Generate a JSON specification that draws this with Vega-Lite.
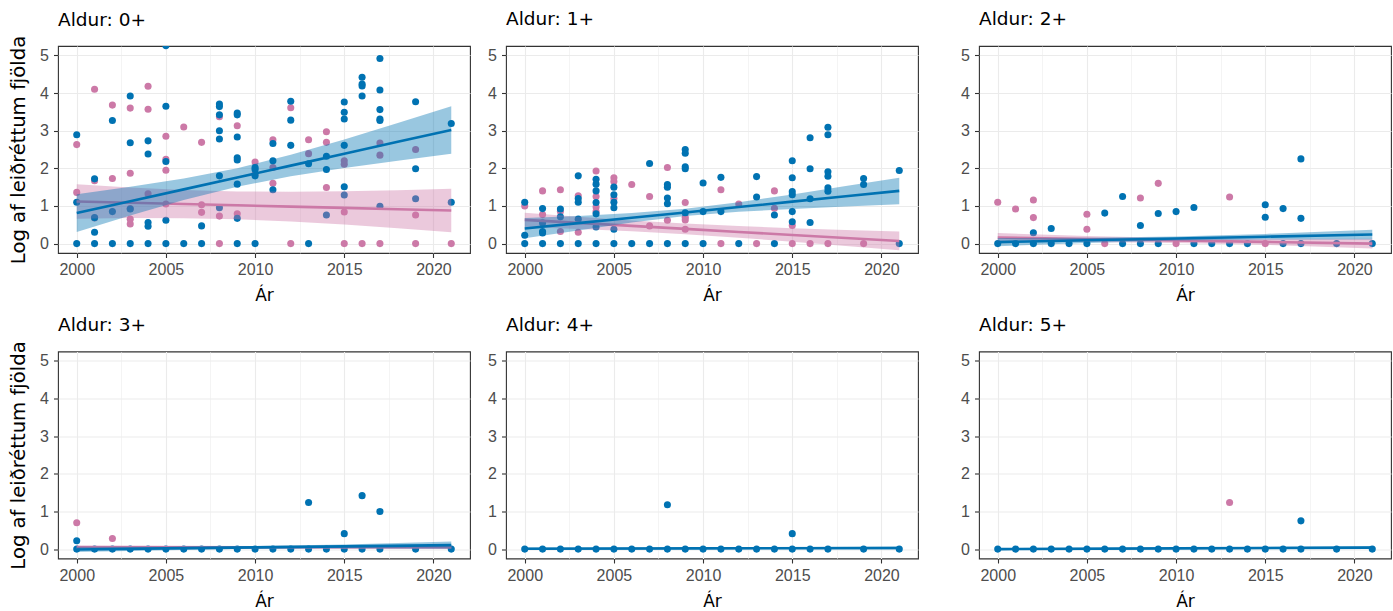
{
"$schema": "https://vega.github.io/schema/vega-lite/v6.json",
"padding": {"left": 8, "top": 9, "right": 4, "bottom": 4},
"columns": 3,
"spacing": {"row": 9.5, "column": 16},
"datasets": {
"punktar": [
{"aldur":"0+","hopur":"A","ar":2000,"y":2.63},{"aldur":"0+","hopur":"A","ar":2000,"y":1.36},{"aldur":"0+","hopur":"A","ar":2001,"y":4.10},{"aldur":"0+","hopur":"A","ar":2001,"y":1.67},{"aldur":"0+","hopur":"A","ar":2001,"y":0.68},{"aldur":"0+","hopur":"A","ar":2002,"y":3.68},{"aldur":"0+","hopur":"A","ar":2002,"y":1.73},{"aldur":"0+","hopur":"A","ar":2003,"y":3.60},{"aldur":"0+","hopur":"A","ar":2003,"y":1.87},{"aldur":"0+","hopur":"A","ar":2003,"y":0.93},{"aldur":"0+","hopur":"A","ar":2003,"y":0.65},{"aldur":"0+","hopur":"A","ar":2003,"y":0.52},{"aldur":"0+","hopur":"A","ar":2004,"y":4.18},{"aldur":"0+","hopur":"A","ar":2004,"y":3.57},{"aldur":"0+","hopur":"A","ar":2004,"y":1.32},{"aldur":"0+","hopur":"A","ar":2005,"y":2.85},{"aldur":"0+","hopur":"A","ar":2005,"y":2.24},{"aldur":"0+","hopur":"A","ar":2005,"y":1.95},{"aldur":"0+","hopur":"A","ar":2005,"y":1.05},{"aldur":"0+","hopur":"A","ar":2006,"y":3.10},{"aldur":"0+","hopur":"A","ar":2007,"y":2.69},{"aldur":"0+","hopur":"A","ar":2007,"y":1.03},{"aldur":"0+","hopur":"A","ar":2007,"y":0.83},{"aldur":"0+","hopur":"A","ar":2008,"y":3.37},{"aldur":"0+","hopur":"A","ar":2008,"y":0.73},{"aldur":"0+","hopur":"A","ar":2008,"y":0},{"aldur":"0+","hopur":"A","ar":2009,"y":3.13},{"aldur":"0+","hopur":"A","ar":2009,"y":0.79},{"aldur":"0+","hopur":"A","ar":2010,"y":2.17},{"aldur":"0+","hopur":"A","ar":2010,"y":1.85},{"aldur":"0+","hopur":"A","ar":2011,"y":2.76},{"aldur":"0+","hopur":"A","ar":2011,"y":2.02},{"aldur":"0+","hopur":"A","ar":2011,"y":1.60},{"aldur":"0+","hopur":"A","ar":2012,"y":3.61},{"aldur":"0+","hopur":"A","ar":2012,"y":0},{"aldur":"0+","hopur":"A","ar":2013,"y":2.76},{"aldur":"0+","hopur":"A","ar":2013,"y":2.39},{"aldur":"0+","hopur":"A","ar":2014,"y":2.97},{"aldur":"0+","hopur":"A","ar":2014,"y":2.69},{"aldur":"0+","hopur":"A","ar":2014,"y":1.49},{"aldur":"0+","hopur":"A","ar":2015,"y":2.20},{"aldur":"0+","hopur":"A","ar":2015,"y":2.11},{"aldur":"0+","hopur":"A","ar":2015,"y":0.84},{"aldur":"0+","hopur":"A","ar":2015,"y":0},{"aldur":"0+","hopur":"A","ar":2016,"y":0},{"aldur":"0+","hopur":"A","ar":2017,"y":2.67},{"aldur":"0+","hopur":"A","ar":2017,"y":2.35},{"aldur":"0+","hopur":"A","ar":2017,"y":0},{"aldur":"0+","hopur":"A","ar":2019,"y":2.50},{"aldur":"0+","hopur":"A","ar":2019,"y":0.76},{"aldur":"0+","hopur":"A","ar":2019,"y":0},{"aldur":"0+","hopur":"A","ar":2021,"y":0},
{"aldur":"0+","hopur":"B","ar":2000,"y":2.89},{"aldur":"0+","hopur":"B","ar":2000,"y":1.10},{"aldur":"0+","hopur":"B","ar":2000,"y":0},{"aldur":"0+","hopur":"B","ar":2001,"y":1.72},{"aldur":"0+","hopur":"B","ar":2001,"y":0.69},{"aldur":"0+","hopur":"B","ar":2001,"y":0.30},{"aldur":"0+","hopur":"B","ar":2001,"y":0},{"aldur":"0+","hopur":"B","ar":2002,"y":3.27},{"aldur":"0+","hopur":"B","ar":2002,"y":0.85},{"aldur":"0+","hopur":"B","ar":2002,"y":0},{"aldur":"0+","hopur":"B","ar":2003,"y":3.92},{"aldur":"0+","hopur":"B","ar":2003,"y":2.68},{"aldur":"0+","hopur":"B","ar":2003,"y":0.92},{"aldur":"0+","hopur":"B","ar":2003,"y":0},{"aldur":"0+","hopur":"B","ar":2004,"y":2.73},{"aldur":"0+","hopur":"B","ar":2004,"y":2.38},{"aldur":"0+","hopur":"B","ar":2004,"y":0.56},{"aldur":"0+","hopur":"B","ar":2004,"y":0.46},{"aldur":"0+","hopur":"B","ar":2004,"y":0},{"aldur":"0+","hopur":"B","ar":2005,"y":5.26},{"aldur":"0+","hopur":"B","ar":2005,"y":3.65},{"aldur":"0+","hopur":"B","ar":2005,"y":2.18},{"aldur":"0+","hopur":"B","ar":2005,"y":0.62},{"aldur":"0+","hopur":"B","ar":2005,"y":0},{"aldur":"0+","hopur":"B","ar":2006,"y":0},{"aldur":"0+","hopur":"B","ar":2007,"y":0.47},{"aldur":"0+","hopur":"B","ar":2007,"y":0},{"aldur":"0+","hopur":"B","ar":2008,"y":3.71},{"aldur":"0+","hopur":"B","ar":2008,"y":3.64},{"aldur":"0+","hopur":"B","ar":2008,"y":3.42},{"aldur":"0+","hopur":"B","ar":2008,"y":3.00},{"aldur":"0+","hopur":"B","ar":2008,"y":2.78},{"aldur":"0+","hopur":"B","ar":2008,"y":1.80},{"aldur":"0+","hopur":"B","ar":2008,"y":0.95},{"aldur":"0+","hopur":"B","ar":2009,"y":3.47},{"aldur":"0+","hopur":"B","ar":2009,"y":3.42},{"aldur":"0+","hopur":"B","ar":2009,"y":2.83},{"aldur":"0+","hopur":"B","ar":2009,"y":2.28},{"aldur":"0+","hopur":"B","ar":2009,"y":2.22},{"aldur":"0+","hopur":"B","ar":2009,"y":1.58},{"aldur":"0+","hopur":"B","ar":2009,"y":0.67},{"aldur":"0+","hopur":"B","ar":2009,"y":0},{"aldur":"0+","hopur":"B","ar":2010,"y":2.02},{"aldur":"0+","hopur":"B","ar":2010,"y":1.97},{"aldur":"0+","hopur":"B","ar":2010,"y":1.80},{"aldur":"0+","hopur":"B","ar":2010,"y":0},{"aldur":"0+","hopur":"B","ar":2011,"y":2.66},{"aldur":"0+","hopur":"B","ar":2011,"y":2.20},{"aldur":"0+","hopur":"B","ar":2011,"y":1.43},{"aldur":"0+","hopur":"B","ar":2012,"y":3.78},{"aldur":"0+","hopur":"B","ar":2012,"y":3.28},{"aldur":"0+","hopur":"B","ar":2012,"y":2.61},{"aldur":"0+","hopur":"B","ar":2013,"y":2.12},{"aldur":"0+","hopur":"B","ar":2013,"y":0},{"aldur":"0+","hopur":"B","ar":2014,"y":2.32},{"aldur":"0+","hopur":"B","ar":2014,"y":1.97},{"aldur":"0+","hopur":"B","ar":2014,"y":0.76},{"aldur":"0+","hopur":"B","ar":2015,"y":3.76},{"aldur":"0+","hopur":"B","ar":2015,"y":3.49},{"aldur":"0+","hopur":"B","ar":2015,"y":3.31},{"aldur":"0+","hopur":"B","ar":2015,"y":2.61},{"aldur":"0+","hopur":"B","ar":2015,"y":1.51},{"aldur":"0+","hopur":"B","ar":2015,"y":1.29},{"aldur":"0+","hopur":"B","ar":2016,"y":4.42},{"aldur":"0+","hopur":"B","ar":2016,"y":4.24},{"aldur":"0+","hopur":"B","ar":2016,"y":4.19},{"aldur":"0+","hopur":"B","ar":2016,"y":3.92},{"aldur":"0+","hopur":"B","ar":2017,"y":4.92},{"aldur":"0+","hopur":"B","ar":2017,"y":4.08},{"aldur":"0+","hopur":"B","ar":2017,"y":3.56},{"aldur":"0+","hopur":"B","ar":2017,"y":3.31},{"aldur":"0+","hopur":"B","ar":2017,"y":3.27},{"aldur":"0+","hopur":"B","ar":2017,"y":0.99},{"aldur":"0+","hopur":"B","ar":2019,"y":3.77},{"aldur":"0+","hopur":"B","ar":2019,"y":1.99},{"aldur":"0+","hopur":"B","ar":2019,"y":1.19},{"aldur":"0+","hopur":"B","ar":2021,"y":3.19},{"aldur":"0+","hopur":"B","ar":2021,"y":1.10},
{"aldur":"1+","hopur":"A","ar":2000,"y":1.00},{"aldur":"1+","hopur":"A","ar":2001,"y":1.40},{"aldur":"1+","hopur":"A","ar":2001,"y":0.77},{"aldur":"1+","hopur":"A","ar":2002,"y":1.43},{"aldur":"1+","hopur":"A","ar":2002,"y":0.85},{"aldur":"1+","hopur":"A","ar":2002,"y":0.32},{"aldur":"1+","hopur":"A","ar":2003,"y":1.27},{"aldur":"1+","hopur":"A","ar":2003,"y":0.30},{"aldur":"1+","hopur":"A","ar":2004,"y":1.93},{"aldur":"1+","hopur":"A","ar":2004,"y":1.25},{"aldur":"1+","hopur":"A","ar":2004,"y":0.97},{"aldur":"1+","hopur":"A","ar":2004,"y":0.85},{"aldur":"1+","hopur":"A","ar":2005,"y":1.75},{"aldur":"1+","hopur":"A","ar":2005,"y":1.65},{"aldur":"1+","hopur":"A","ar":2005,"y":1.20},{"aldur":"1+","hopur":"A","ar":2006,"y":1.57},{"aldur":"1+","hopur":"A","ar":2007,"y":1.25},{"aldur":"1+","hopur":"A","ar":2007,"y":0.47},{"aldur":"1+","hopur":"A","ar":2008,"y":2.02},{"aldur":"1+","hopur":"A","ar":2008,"y":0.62},{"aldur":"1+","hopur":"A","ar":2009,"y":1.09},{"aldur":"1+","hopur":"A","ar":2009,"y":0.70},{"aldur":"1+","hopur":"A","ar":2009,"y":0.63},{"aldur":"1+","hopur":"A","ar":2009,"y":0.38},{"aldur":"1+","hopur":"A","ar":2011,"y":1.43},{"aldur":"1+","hopur":"A","ar":2011,"y":0},{"aldur":"1+","hopur":"A","ar":2012,"y":1.05},{"aldur":"1+","hopur":"A","ar":2013,"y":0},{"aldur":"1+","hopur":"A","ar":2014,"y":1.40},{"aldur":"1+","hopur":"A","ar":2014,"y":0.94},{"aldur":"1+","hopur":"A","ar":2015,"y":0.48},{"aldur":"1+","hopur":"A","ar":2015,"y":0},{"aldur":"1+","hopur":"A","ar":2016,"y":0},{"aldur":"1+","hopur":"A","ar":2017,"y":0},{"aldur":"1+","hopur":"A","ar":2019,"y":0},
{"aldur":"1+","hopur":"B","ar":2000,"y":1.10},{"aldur":"1+","hopur":"B","ar":2000,"y":0.22},{"aldur":"1+","hopur":"B","ar":2000,"y":0},{"aldur":"1+","hopur":"B","ar":2001,"y":0.93},{"aldur":"1+","hopur":"B","ar":2001,"y":0.55},{"aldur":"1+","hopur":"B","ar":2001,"y":0.32},{"aldur":"1+","hopur":"B","ar":2001,"y":0.28},{"aldur":"1+","hopur":"B","ar":2001,"y":0},{"aldur":"1+","hopur":"B","ar":2002,"y":0.92},{"aldur":"1+","hopur":"B","ar":2002,"y":0.71},{"aldur":"1+","hopur":"B","ar":2002,"y":0},{"aldur":"1+","hopur":"B","ar":2003,"y":1.80},{"aldur":"1+","hopur":"B","ar":2003,"y":1.20},{"aldur":"1+","hopur":"B","ar":2003,"y":1.10},{"aldur":"1+","hopur":"B","ar":2003,"y":0.65},{"aldur":"1+","hopur":"B","ar":2003,"y":0},{"aldur":"1+","hopur":"B","ar":2004,"y":1.71},{"aldur":"1+","hopur":"B","ar":2004,"y":1.58},{"aldur":"1+","hopur":"B","ar":2004,"y":1.40},{"aldur":"1+","hopur":"B","ar":2004,"y":1.09},{"aldur":"1+","hopur":"B","ar":2004,"y":0.79},{"aldur":"1+","hopur":"B","ar":2004,"y":0.44},{"aldur":"1+","hopur":"B","ar":2004,"y":0},{"aldur":"1+","hopur":"B","ar":2005,"y":1.50},{"aldur":"1+","hopur":"B","ar":2005,"y":1.30},{"aldur":"1+","hopur":"B","ar":2005,"y":1.10},{"aldur":"1+","hopur":"B","ar":2005,"y":0.95},{"aldur":"1+","hopur":"B","ar":2005,"y":0.38},{"aldur":"1+","hopur":"B","ar":2005,"y":0},{"aldur":"1+","hopur":"B","ar":2006,"y":0},{"aldur":"1+","hopur":"B","ar":2007,"y":2.13},{"aldur":"1+","hopur":"B","ar":2007,"y":0},{"aldur":"1+","hopur":"B","ar":2008,"y":1.57},{"aldur":"1+","hopur":"B","ar":2008,"y":1.50},{"aldur":"1+","hopur":"B","ar":2008,"y":1.21},{"aldur":"1+","hopur":"B","ar":2008,"y":1.06},{"aldur":"1+","hopur":"B","ar":2008,"y":0},{"aldur":"1+","hopur":"B","ar":2009,"y":2.50},{"aldur":"1+","hopur":"B","ar":2009,"y":2.40},{"aldur":"1+","hopur":"B","ar":2009,"y":2.04},{"aldur":"1+","hopur":"B","ar":2009,"y":1.99},{"aldur":"1+","hopur":"B","ar":2009,"y":0.82},{"aldur":"1+","hopur":"B","ar":2009,"y":0},{"aldur":"1+","hopur":"B","ar":2010,"y":1.61},{"aldur":"1+","hopur":"B","ar":2010,"y":0.85},{"aldur":"1+","hopur":"B","ar":2010,"y":0},{"aldur":"1+","hopur":"B","ar":2011,"y":1.76},{"aldur":"1+","hopur":"B","ar":2011,"y":0.85},{"aldur":"1+","hopur":"B","ar":2012,"y":0},{"aldur":"1+","hopur":"B","ar":2013,"y":1.78},{"aldur":"1+","hopur":"B","ar":2013,"y":1.24},{"aldur":"1+","hopur":"B","ar":2014,"y":0.76},{"aldur":"1+","hopur":"B","ar":2014,"y":0},{"aldur":"1+","hopur":"B","ar":2015,"y":2.20},{"aldur":"1+","hopur":"B","ar":2015,"y":1.75},{"aldur":"1+","hopur":"B","ar":2015,"y":1.38},{"aldur":"1+","hopur":"B","ar":2015,"y":1.30},{"aldur":"1+","hopur":"B","ar":2015,"y":0.85},{"aldur":"1+","hopur":"B","ar":2015,"y":0.58},{"aldur":"1+","hopur":"B","ar":2016,"y":2.81},{"aldur":"1+","hopur":"B","ar":2016,"y":1.99},{"aldur":"1+","hopur":"B","ar":2016,"y":1.19},{"aldur":"1+","hopur":"B","ar":2016,"y":0.56},{"aldur":"1+","hopur":"B","ar":2017,"y":3.09},{"aldur":"1+","hopur":"B","ar":2017,"y":2.89},{"aldur":"1+","hopur":"B","ar":2017,"y":1.91},{"aldur":"1+","hopur":"B","ar":2017,"y":1.79},{"aldur":"1+","hopur":"B","ar":2017,"y":1.48},{"aldur":"1+","hopur":"B","ar":2017,"y":1.39},{"aldur":"1+","hopur":"B","ar":2019,"y":1.73},{"aldur":"1+","hopur":"B","ar":2019,"y":1.57},{"aldur":"1+","hopur":"B","ar":2021,"y":1.94},{"aldur":"1+","hopur":"B","ar":2021,"y":0},
{"aldur":"2+","hopur":"A","ar":2000,"y":1.10},{"aldur":"2+","hopur":"A","ar":2001,"y":0.92},{"aldur":"2+","hopur":"A","ar":2002,"y":1.16},{"aldur":"2+","hopur":"A","ar":2002,"y":0.69},{"aldur":"2+","hopur":"A","ar":2005,"y":0.78},{"aldur":"2+","hopur":"A","ar":2005,"y":0.38},{"aldur":"2+","hopur":"A","ar":2006,"y":0},{"aldur":"2+","hopur":"A","ar":2008,"y":1.21},{"aldur":"2+","hopur":"A","ar":2009,"y":1.60},{"aldur":"2+","hopur":"A","ar":2010,"y":0},{"aldur":"2+","hopur":"A","ar":2013,"y":1.24},{"aldur":"2+","hopur":"A","ar":2015,"y":0},
{"aldur":"2+","hopur":"B","ar":2000,"y":0},{"aldur":"2+","hopur":"B","ar":2001,"y":0},{"aldur":"2+","hopur":"B","ar":2002,"y":0.29},{"aldur":"2+","hopur":"B","ar":2002,"y":0},{"aldur":"2+","hopur":"B","ar":2003,"y":0.40},{"aldur":"2+","hopur":"B","ar":2003,"y":0},{"aldur":"2+","hopur":"B","ar":2004,"y":0},{"aldur":"2+","hopur":"B","ar":2005,"y":0},{"aldur":"2+","hopur":"B","ar":2006,"y":0.81},{"aldur":"2+","hopur":"B","ar":2007,"y":1.25},{"aldur":"2+","hopur":"B","ar":2007,"y":0},{"aldur":"2+","hopur":"B","ar":2008,"y":0.48},{"aldur":"2+","hopur":"B","ar":2008,"y":0},{"aldur":"2+","hopur":"B","ar":2009,"y":0.80},{"aldur":"2+","hopur":"B","ar":2009,"y":0},{"aldur":"2+","hopur":"B","ar":2010,"y":0.85},{"aldur":"2+","hopur":"B","ar":2011,"y":0.96},{"aldur":"2+","hopur":"B","ar":2011,"y":0},{"aldur":"2+","hopur":"B","ar":2012,"y":0},{"aldur":"2+","hopur":"B","ar":2013,"y":0},{"aldur":"2+","hopur":"B","ar":2014,"y":0},{"aldur":"2+","hopur":"B","ar":2015,"y":1.03},{"aldur":"2+","hopur":"B","ar":2015,"y":0.70},{"aldur":"2+","hopur":"B","ar":2016,"y":0.93},{"aldur":"2+","hopur":"B","ar":2016,"y":0},{"aldur":"2+","hopur":"B","ar":2017,"y":2.25},{"aldur":"2+","hopur":"B","ar":2017,"y":0.67},{"aldur":"2+","hopur":"B","ar":2017,"y":0},{"aldur":"2+","hopur":"B","ar":2019,"y":0},{"aldur":"2+","hopur":"B","ar":2021,"y":0},
{"aldur":"3+","hopur":"A","ar":2000,"y":0.70},{"aldur":"3+","hopur":"A","ar":2002,"y":0.28},
{"aldur":"3+","hopur":"B","ar":2000,"y":0.22},{"aldur":"3+","hopur":"B","ar":2000,"y":0},{"aldur":"3+","hopur":"B","ar":2001,"y":0},{"aldur":"3+","hopur":"B","ar":2002,"y":0},{"aldur":"3+","hopur":"B","ar":2003,"y":0},{"aldur":"3+","hopur":"B","ar":2004,"y":0},{"aldur":"3+","hopur":"B","ar":2005,"y":0},{"aldur":"3+","hopur":"B","ar":2006,"y":0},{"aldur":"3+","hopur":"B","ar":2007,"y":0},{"aldur":"3+","hopur":"B","ar":2008,"y":0},{"aldur":"3+","hopur":"B","ar":2009,"y":0},{"aldur":"3+","hopur":"B","ar":2010,"y":0},{"aldur":"3+","hopur":"B","ar":2011,"y":0},{"aldur":"3+","hopur":"B","ar":2012,"y":0},{"aldur":"3+","hopur":"B","ar":2013,"y":1.24},{"aldur":"3+","hopur":"B","ar":2013,"y":0},{"aldur":"3+","hopur":"B","ar":2014,"y":0},{"aldur":"3+","hopur":"B","ar":2015,"y":0.41},{"aldur":"3+","hopur":"B","ar":2015,"y":0},{"aldur":"3+","hopur":"B","ar":2016,"y":1.42},{"aldur":"3+","hopur":"B","ar":2016,"y":0},{"aldur":"3+","hopur":"B","ar":2017,"y":1.00},{"aldur":"3+","hopur":"B","ar":2017,"y":0},{"aldur":"3+","hopur":"B","ar":2019,"y":0},{"aldur":"3+","hopur":"B","ar":2021,"y":0},
{"aldur":"4+","hopur":"B","ar":2000,"y":0},{"aldur":"4+","hopur":"B","ar":2001,"y":0},{"aldur":"4+","hopur":"B","ar":2002,"y":0},{"aldur":"4+","hopur":"B","ar":2003,"y":0},{"aldur":"4+","hopur":"B","ar":2004,"y":0},{"aldur":"4+","hopur":"B","ar":2005,"y":0},{"aldur":"4+","hopur":"B","ar":2006,"y":0},{"aldur":"4+","hopur":"B","ar":2007,"y":0},{"aldur":"4+","hopur":"B","ar":2008,"y":1.18},{"aldur":"4+","hopur":"B","ar":2008,"y":0},{"aldur":"4+","hopur":"B","ar":2009,"y":0},{"aldur":"4+","hopur":"B","ar":2010,"y":0},{"aldur":"4+","hopur":"B","ar":2011,"y":0},{"aldur":"4+","hopur":"B","ar":2012,"y":0},{"aldur":"4+","hopur":"B","ar":2013,"y":0},{"aldur":"4+","hopur":"B","ar":2014,"y":0},{"aldur":"4+","hopur":"B","ar":2015,"y":0.41},{"aldur":"4+","hopur":"B","ar":2015,"y":0},{"aldur":"4+","hopur":"B","ar":2016,"y":0},{"aldur":"4+","hopur":"B","ar":2017,"y":0},{"aldur":"4+","hopur":"B","ar":2019,"y":0},{"aldur":"4+","hopur":"B","ar":2021,"y":0},
{"aldur":"5+","hopur":"A","ar":2013,"y":1.24},
{"aldur":"5+","hopur":"B","ar":2000,"y":0},{"aldur":"5+","hopur":"B","ar":2001,"y":0},{"aldur":"5+","hopur":"B","ar":2002,"y":0},{"aldur":"5+","hopur":"B","ar":2003,"y":0},{"aldur":"5+","hopur":"B","ar":2004,"y":0},{"aldur":"5+","hopur":"B","ar":2005,"y":0},{"aldur":"5+","hopur":"B","ar":2006,"y":0},{"aldur":"5+","hopur":"B","ar":2007,"y":0},{"aldur":"5+","hopur":"B","ar":2008,"y":0},{"aldur":"5+","hopur":"B","ar":2009,"y":0},{"aldur":"5+","hopur":"B","ar":2010,"y":0},{"aldur":"5+","hopur":"B","ar":2011,"y":0},{"aldur":"5+","hopur":"B","ar":2012,"y":0},{"aldur":"5+","hopur":"B","ar":2013,"y":0},{"aldur":"5+","hopur":"B","ar":2014,"y":0},{"aldur":"5+","hopur":"B","ar":2015,"y":0},{"aldur":"5+","hopur":"B","ar":2016,"y":0},{"aldur":"5+","hopur":"B","ar":2017,"y":0.75},{"aldur":"5+","hopur":"B","ar":2017,"y":0},{"aldur":"5+","hopur":"B","ar":2019,"y":0},{"aldur":"5+","hopur":"B","ar":2021,"y":0}
],
"fall": [
{"aldur":"0+","hopur":"A","ar":2000,"fit":1.12,"lo":0.66,"hi":1.58},{"aldur":"0+","hopur":"A","ar":2003,"fit":1.086,"lo":0.679,"hi":1.493},{"aldur":"0+","hopur":"A","ar":2006,"fit":1.051,"lo":0.676,"hi":1.426},{"aldur":"0+","hopur":"A","ar":2009,"fit":1.017,"lo":0.647,"hi":1.387},{"aldur":"0+","hopur":"A","ar":2012,"fit":0.983,"lo":0.589,"hi":1.377},{"aldur":"0+","hopur":"A","ar":2015,"fit":0.949,"lo":0.508,"hi":1.39},{"aldur":"0+","hopur":"A","ar":2018,"fit":0.914,"lo":0.409,"hi":1.419},{"aldur":"0+","hopur":"A","ar":2021,"fit":0.88,"lo":0.30,"hi":1.46},
{"aldur":"0+","hopur":"B","ar":2000,"fit":0.81,"lo":0.31,"hi":1.31},{"aldur":"0+","hopur":"B","ar":2003,"fit":1.126,"lo":0.745,"hi":1.507},{"aldur":"0+","hopur":"B","ar":2006,"fit":1.441,"lo":1.155,"hi":1.727},{"aldur":"0+","hopur":"B","ar":2009,"fit":1.757,"lo":1.51,"hi":2.004},{"aldur":"0+","hopur":"B","ar":2012,"fit":2.072,"lo":1.786,"hi":2.358},{"aldur":"0+","hopur":"B","ar":2015,"fit":2.388,"lo":2.007,"hi":2.769},{"aldur":"0+","hopur":"B","ar":2018,"fit":2.704,"lo":2.204,"hi":3.204},{"aldur":"0+","hopur":"B","ar":2021,"fit":3.02,"lo":2.39,"hi":3.65},
{"aldur":"1+","hopur":"A","ar":2000,"fit":0.63,"lo":0.44,"hi":0.82},{"aldur":"1+","hopur":"A","ar":2003,"fit":0.55,"lo":0.388,"hi":0.712},{"aldur":"1+","hopur":"A","ar":2006,"fit":0.47,"lo":0.325,"hi":0.615},{"aldur":"1+","hopur":"A","ar":2009,"fit":0.39,"lo":0.248,"hi":0.532},{"aldur":"1+","hopur":"A","ar":2012,"fit":0.31,"lo":0.155,"hi":0.465},{"aldur":"1+","hopur":"A","ar":2015,"fit":0.23,"lo":0.05,"hi":0.41},{"aldur":"1+","hopur":"A","ar":2018,"fit":0.15,"lo":-0.062,"hi":0.362},{"aldur":"1+","hopur":"A","ar":2021,"fit":0.07,"lo":-0.18,"hi":0.32},
{"aldur":"1+","hopur":"B","ar":2000,"fit":0.40,"lo":0.14,"hi":0.68},{"aldur":"1+","hopur":"B","ar":2003,"fit":0.543,"lo":0.35,"hi":0.736},{"aldur":"1+","hopur":"B","ar":2006,"fit":0.686,"lo":0.559,"hi":0.813},{"aldur":"1+","hopur":"B","ar":2009,"fit":0.828,"lo":0.733,"hi":0.923},{"aldur":"1+","hopur":"B","ar":2012,"fit":0.971,"lo":0.844,"hi":1.098},{"aldur":"1+","hopur":"B","ar":2015,"fit":1.114,"lo":0.921,"hi":1.307},{"aldur":"1+","hopur":"B","ar":2018,"fit":1.257,"lo":0.987,"hi":1.527},{"aldur":"1+","hopur":"B","ar":2021,"fit":1.40,"lo":1.048,"hi":1.752},
{"aldur":"2+","hopur":"A","ar":2000,"fit":0.16,"lo":0.04,"hi":0.28},{"aldur":"2+","hopur":"A","ar":2005,"fit":0.122,"lo":0.042,"hi":0.202},{"aldur":"2+","hopur":"A","ar":2010,"fit":0.084,"lo":0.019,"hi":0.149},{"aldur":"2+","hopur":"A","ar":2015,"fit":0.046,"lo":-0.034,"hi":0.126},{"aldur":"2+","hopur":"A","ar":2021,"fit":0.0,"lo":-0.13,"hi":0.13},
{"aldur":"2+","hopur":"B","ar":2000,"fit":0.04,"lo":-0.07,"hi":0.15},{"aldur":"2+","hopur":"B","ar":2005,"fit":0.088,"lo":0.018,"hi":0.158},{"aldur":"2+","hopur":"B","ar":2010,"fit":0.135,"lo":0.08,"hi":0.19},{"aldur":"2+","hopur":"B","ar":2015,"fit":0.183,"lo":0.108,"hi":0.258},{"aldur":"2+","hopur":"B","ar":2021,"fit":0.24,"lo":0.11,"hi":0.37},
{"aldur":"3+","hopur":"A","ar":2000,"fit":0.05,"lo":0.0,"hi":0.1},{"aldur":"3+","hopur":"A","ar":2010,"fit":0.05,"lo":0.02,"hi":0.08},{"aldur":"3+","hopur":"A","ar":2021,"fit":0.05,"lo":0.0,"hi":0.1},
{"aldur":"3+","hopur":"B","ar":2000,"fit":-0.01,"lo":-0.08,"hi":0.06},{"aldur":"3+","hopur":"B","ar":2005,"fit":0.018,"lo":-0.03,"hi":0.065},{"aldur":"3+","hopur":"B","ar":2010,"fit":0.045,"lo":0.01,"hi":0.08},{"aldur":"3+","hopur":"B","ar":2015,"fit":0.072,"lo":0.025,"hi":0.12},{"aldur":"3+","hopur":"B","ar":2021,"fit":0.105,"lo":0.01,"hi":0.2},
{"aldur":"4+","hopur":"B","ar":2000,"fit":0.01,"lo":-0.02,"hi":0.04},{"aldur":"4+","hopur":"B","ar":2010,"fit":0.02,"lo":0.0,"hi":0.04},{"aldur":"4+","hopur":"B","ar":2021,"fit":0.03,"lo":-0.01,"hi":0.07},
{"aldur":"5+","hopur":"B","ar":2000,"fit":0.0,"lo":-0.03,"hi":0.03},{"aldur":"5+","hopur":"B","ar":2010,"fit":0.02,"lo":0.0,"hi":0.04},{"aldur":"5+","hopur":"B","ar":2021,"fit":0.04,"lo":0.0,"hi":0.08}
]
},
"concat": [
{"title": {"text": "Aldur: 0+", "offset": 6.3}, "width": 412, "height": 207,
 "encoding": {"x": {"field": "ar", "type": "quantitative", "title": "Ár", "scale": {"domain": [1998.95, 2022.05], "nice": false, "zero": false}, "axis": {"values": [2000, 2002.5, 2005, 2007.5, 2010, 2012.5, 2015, 2017.5, 2020], "labelExpr": "datum.value % 5 === 0 ? '' + datum.value : ''", "gridWidth": {"condition": {"test": "datum.value % 5 === 0", "value": 1.1}, "value": 0.55}, "tickOpacity": {"condition": {"test": "datum.value % 5 === 0", "value": 1}, "value": 0}}},
  "color": {"field": "hopur", "type": "nominal", "scale": {"domain": ["A", "B"], "range": ["#CC79A7", "#0072B2"]}, "legend": null}},
 "layer": [
  {"data": {"name": "punktar"}, "transform": [{"filter": "datum.aldur === '0+'"}], "mark": {"type": "circle", "size": 50, "opacity": 1, "clip": true}, "encoding": {"y": {"field": "y", "type": "quantitative", "title": "Log af leiðréttum fjölda", "scale": {"domain": [-0.25, 5.25], "nice": false, "zero": false}, "axis": {"values": [0, 0.5, 1, 1.5, 2, 2.5, 3, 3.5, 4, 4.5, 5], "labelExpr": "datum.value % 1 === 0 ? '' + datum.value : ''", "gridWidth": {"condition": {"test": "datum.value % 1 === 0", "value": 1.1}, "value": 0.55}, "tickOpacity": {"condition": {"test": "datum.value % 1 === 0", "value": 1}, "value": 0}}}}},
  {"data": {"name": "fall"}, "transform": [{"filter": "datum.aldur === '0+' && datum.hopur === 'A'"}], "mark": {"type": "area", "opacity": 0.4, "clip": true}, "encoding": {"y": {"field": "lo", "type": "quantitative", "title": "Log af leiðréttum fjölda"}, "y2": {"field": "hi"}}},
  {"data": {"name": "fall"}, "transform": [{"filter": "datum.aldur === '0+' && datum.hopur === 'A'"}], "mark": {"type": "line", "strokeWidth": 2.6, "clip": true}, "encoding": {"y": {"field": "fit", "type": "quantitative", "title": "Log af leiðréttum fjölda"}}},
  {"data": {"name": "fall"}, "transform": [{"filter": "datum.aldur === '0+' && datum.hopur === 'B'"}], "mark": {"type": "area", "opacity": 0.4, "clip": true}, "encoding": {"y": {"field": "lo", "type": "quantitative", "title": "Log af leiðréttum fjölda"}, "y2": {"field": "hi"}}},
  {"data": {"name": "fall"}, "transform": [{"filter": "datum.aldur === '0+' && datum.hopur === 'B'"}], "mark": {"type": "line", "strokeWidth": 2.6, "clip": true}, "encoding": {"y": {"field": "fit", "type": "quantitative", "title": "Log af leiðréttum fjölda"}}}
 ]},
{"title": {"text": "Aldur: 1+", "offset": 17.3}, "width": 412, "height": 207,
 "encoding": {"x": {"field": "ar", "type": "quantitative", "title": "Ár", "scale": {"domain": [1998.95, 2022.05], "nice": false, "zero": false}, "axis": {"values": [2000, 2002.5, 2005, 2007.5, 2010, 2012.5, 2015, 2017.5, 2020], "labelExpr": "datum.value % 5 === 0 ? '' + datum.value : ''", "gridWidth": {"condition": {"test": "datum.value % 5 === 0", "value": 1.1}, "value": 0.55}, "tickOpacity": {"condition": {"test": "datum.value % 5 === 0", "value": 1}, "value": 0}}},
  "color": {"field": "hopur", "type": "nominal", "scale": {"domain": ["A", "B"], "range": ["#CC79A7", "#0072B2"]}, "legend": null}},
 "layer": [
  {"data": {"name": "punktar"}, "transform": [{"filter": "datum.aldur === '1+'"}], "mark": {"type": "circle", "size": 50, "opacity": 1, "clip": true}, "encoding": {"y": {"field": "y", "type": "quantitative", "title": null, "scale": {"domain": [-0.25, 5.25], "nice": false, "zero": false}, "axis": {"values": [0, 0.5, 1, 1.5, 2, 2.5, 3, 3.5, 4, 4.5, 5], "labelExpr": "datum.value % 1 === 0 ? '' + datum.value : ''", "gridWidth": {"condition": {"test": "datum.value % 1 === 0", "value": 1.1}, "value": 0.55}, "tickOpacity": {"condition": {"test": "datum.value % 1 === 0", "value": 1}, "value": 0}}}}},
  {"data": {"name": "fall"}, "transform": [{"filter": "datum.aldur === '1+' && datum.hopur === 'A'"}], "mark": {"type": "area", "opacity": 0.4, "clip": true}, "encoding": {"y": {"field": "lo", "type": "quantitative", "title": null}, "y2": {"field": "hi"}}},
  {"data": {"name": "fall"}, "transform": [{"filter": "datum.aldur === '1+' && datum.hopur === 'A'"}], "mark": {"type": "line", "strokeWidth": 2.6, "clip": true}, "encoding": {"y": {"field": "fit", "type": "quantitative", "title": null}}},
  {"data": {"name": "fall"}, "transform": [{"filter": "datum.aldur === '1+' && datum.hopur === 'B'"}], "mark": {"type": "area", "opacity": 0.4, "clip": true}, "encoding": {"y": {"field": "lo", "type": "quantitative", "title": null}, "y2": {"field": "hi"}}},
  {"data": {"name": "fall"}, "transform": [{"filter": "datum.aldur === '1+' && datum.hopur === 'B'"}], "mark": {"type": "line", "strokeWidth": 2.6, "clip": true}, "encoding": {"y": {"field": "fit", "type": "quantitative", "title": null}}}
 ]},
{"title": {"text": "Aldur: 2+", "offset": 17.3}, "width": 412, "height": 207,
 "encoding": {"x": {"field": "ar", "type": "quantitative", "title": "Ár", "scale": {"domain": [1998.95, 2022.05], "nice": false, "zero": false}, "axis": {"values": [2000, 2002.5, 2005, 2007.5, 2010, 2012.5, 2015, 2017.5, 2020], "labelExpr": "datum.value % 5 === 0 ? '' + datum.value : ''", "gridWidth": {"condition": {"test": "datum.value % 5 === 0", "value": 1.1}, "value": 0.55}, "tickOpacity": {"condition": {"test": "datum.value % 5 === 0", "value": 1}, "value": 0}}},
  "color": {"field": "hopur", "type": "nominal", "scale": {"domain": ["A", "B"], "range": ["#CC79A7", "#0072B2"]}, "legend": null}},
 "layer": [
  {"data": {"name": "punktar"}, "transform": [{"filter": "datum.aldur === '2+'"}], "mark": {"type": "circle", "size": 50, "opacity": 1, "clip": true}, "encoding": {"y": {"field": "y", "type": "quantitative", "title": null, "scale": {"domain": [-0.25, 5.25], "nice": false, "zero": false}, "axis": {"minExtent": 43, "values": [0, 0.5, 1, 1.5, 2, 2.5, 3, 3.5, 4, 4.5, 5], "labelExpr": "datum.value % 1 === 0 ? '' + datum.value : ''", "gridWidth": {"condition": {"test": "datum.value % 1 === 0", "value": 1.1}, "value": 0.55}, "tickOpacity": {"condition": {"test": "datum.value % 1 === 0", "value": 1}, "value": 0}}}}},
  {"data": {"name": "fall"}, "transform": [{"filter": "datum.aldur === '2+' && datum.hopur === 'A'"}], "mark": {"type": "area", "opacity": 0.4, "clip": true}, "encoding": {"y": {"field": "lo", "type": "quantitative", "title": null}, "y2": {"field": "hi"}}},
  {"data": {"name": "fall"}, "transform": [{"filter": "datum.aldur === '2+' && datum.hopur === 'A'"}], "mark": {"type": "line", "strokeWidth": 2.6, "clip": true}, "encoding": {"y": {"field": "fit", "type": "quantitative", "title": null}}},
  {"data": {"name": "fall"}, "transform": [{"filter": "datum.aldur === '2+' && datum.hopur === 'B'"}], "mark": {"type": "area", "opacity": 0.4, "clip": true}, "encoding": {"y": {"field": "lo", "type": "quantitative", "title": null}, "y2": {"field": "hi"}}},
  {"data": {"name": "fall"}, "transform": [{"filter": "datum.aldur === '2+' && datum.hopur === 'B'"}], "mark": {"type": "line", "strokeWidth": 2.6, "clip": true}, "encoding": {"y": {"field": "fit", "type": "quantitative", "title": null}}}
 ]},
{"title": {"text": "Aldur: 3+", "offset": 6.3}, "width": 412, "height": 207,
 "encoding": {"x": {"field": "ar", "type": "quantitative", "title": "Ár", "scale": {"domain": [1998.95, 2022.05], "nice": false, "zero": false}, "axis": {"values": [2000, 2002.5, 2005, 2007.5, 2010, 2012.5, 2015, 2017.5, 2020], "labelExpr": "datum.value % 5 === 0 ? '' + datum.value : ''", "gridWidth": {"condition": {"test": "datum.value % 5 === 0", "value": 1.1}, "value": 0.55}, "tickOpacity": {"condition": {"test": "datum.value % 5 === 0", "value": 1}, "value": 0}}},
  "color": {"field": "hopur", "type": "nominal", "scale": {"domain": ["A", "B"], "range": ["#CC79A7", "#0072B2"]}, "legend": null}},
 "layer": [
  {"data": {"name": "punktar"}, "transform": [{"filter": "datum.aldur === '3+'"}], "mark": {"type": "circle", "size": 50, "opacity": 1, "clip": true}, "encoding": {"y": {"field": "y", "type": "quantitative", "title": "Log af leiðréttum fjölda", "scale": {"domain": [-0.25, 5.25], "nice": false, "zero": false}, "axis": {"values": [0, 0.5, 1, 1.5, 2, 2.5, 3, 3.5, 4, 4.5, 5], "labelExpr": "datum.value % 1 === 0 ? '' + datum.value : ''", "gridWidth": {"condition": {"test": "datum.value % 1 === 0", "value": 1.1}, "value": 0.55}, "tickOpacity": {"condition": {"test": "datum.value % 1 === 0", "value": 1}, "value": 0}}}}},
  {"data": {"name": "fall"}, "transform": [{"filter": "datum.aldur === '3+' && datum.hopur === 'A'"}], "mark": {"type": "area", "opacity": 0.4, "clip": true}, "encoding": {"y": {"field": "lo", "type": "quantitative", "title": "Log af leiðréttum fjölda"}, "y2": {"field": "hi"}}},
  {"data": {"name": "fall"}, "transform": [{"filter": "datum.aldur === '3+' && datum.hopur === 'A'"}], "mark": {"type": "line", "strokeWidth": 2.6, "clip": true}, "encoding": {"y": {"field": "fit", "type": "quantitative", "title": "Log af leiðréttum fjölda"}}},
  {"data": {"name": "fall"}, "transform": [{"filter": "datum.aldur === '3+' && datum.hopur === 'B'"}], "mark": {"type": "area", "opacity": 0.4, "clip": true}, "encoding": {"y": {"field": "lo", "type": "quantitative", "title": "Log af leiðréttum fjölda"}, "y2": {"field": "hi"}}},
  {"data": {"name": "fall"}, "transform": [{"filter": "datum.aldur === '3+' && datum.hopur === 'B'"}], "mark": {"type": "line", "strokeWidth": 2.6, "clip": true}, "encoding": {"y": {"field": "fit", "type": "quantitative", "title": "Log af leiðréttum fjölda"}}}
 ]},
{"title": {"text": "Aldur: 4+", "offset": 17.3}, "width": 412, "height": 207,
 "encoding": {"x": {"field": "ar", "type": "quantitative", "title": "Ár", "scale": {"domain": [1998.95, 2022.05], "nice": false, "zero": false}, "axis": {"values": [2000, 2002.5, 2005, 2007.5, 2010, 2012.5, 2015, 2017.5, 2020], "labelExpr": "datum.value % 5 === 0 ? '' + datum.value : ''", "gridWidth": {"condition": {"test": "datum.value % 5 === 0", "value": 1.1}, "value": 0.55}, "tickOpacity": {"condition": {"test": "datum.value % 5 === 0", "value": 1}, "value": 0}}},
  "color": {"field": "hopur", "type": "nominal", "scale": {"domain": ["A", "B"], "range": ["#CC79A7", "#0072B2"]}, "legend": null}},
 "layer": [
  {"data": {"name": "punktar"}, "transform": [{"filter": "datum.aldur === '4+'"}], "mark": {"type": "circle", "size": 50, "opacity": 1, "clip": true}, "encoding": {"y": {"field": "y", "type": "quantitative", "title": null, "scale": {"domain": [-0.25, 5.25], "nice": false, "zero": false}, "axis": {"values": [0, 0.5, 1, 1.5, 2, 2.5, 3, 3.5, 4, 4.5, 5], "labelExpr": "datum.value % 1 === 0 ? '' + datum.value : ''", "gridWidth": {"condition": {"test": "datum.value % 1 === 0", "value": 1.1}, "value": 0.55}, "tickOpacity": {"condition": {"test": "datum.value % 1 === 0", "value": 1}, "value": 0}}}}},
  {"data": {"name": "fall"}, "transform": [{"filter": "datum.aldur === '4+' && datum.hopur === 'B'"}], "mark": {"type": "area", "opacity": 0.4, "clip": true}, "encoding": {"y": {"field": "lo", "type": "quantitative", "title": null}, "y2": {"field": "hi"}}},
  {"data": {"name": "fall"}, "transform": [{"filter": "datum.aldur === '4+' && datum.hopur === 'B'"}], "mark": {"type": "line", "strokeWidth": 2.6, "clip": true}, "encoding": {"y": {"field": "fit", "type": "quantitative", "title": null}}}
 ]},
{"title": {"text": "Aldur: 5+", "offset": 17.3}, "width": 412, "height": 207,
 "encoding": {"x": {"field": "ar", "type": "quantitative", "title": "Ár", "scale": {"domain": [1998.95, 2022.05], "nice": false, "zero": false}, "axis": {"values": [2000, 2002.5, 2005, 2007.5, 2010, 2012.5, 2015, 2017.5, 2020], "labelExpr": "datum.value % 5 === 0 ? '' + datum.value : ''", "gridWidth": {"condition": {"test": "datum.value % 5 === 0", "value": 1.1}, "value": 0.55}, "tickOpacity": {"condition": {"test": "datum.value % 5 === 0", "value": 1}, "value": 0}}},
  "color": {"field": "hopur", "type": "nominal", "scale": {"domain": ["A", "B"], "range": ["#CC79A7", "#0072B2"]}, "legend": null}},
 "layer": [
  {"data": {"name": "punktar"}, "transform": [{"filter": "datum.aldur === '5+'"}], "mark": {"type": "circle", "size": 50, "opacity": 1, "clip": true}, "encoding": {"y": {"field": "y", "type": "quantitative", "title": null, "scale": {"domain": [-0.25, 5.25], "nice": false, "zero": false}, "axis": {"minExtent": 43, "values": [0, 0.5, 1, 1.5, 2, 2.5, 3, 3.5, 4, 4.5, 5], "labelExpr": "datum.value % 1 === 0 ? '' + datum.value : ''", "gridWidth": {"condition": {"test": "datum.value % 1 === 0", "value": 1.1}, "value": 0.55}, "tickOpacity": {"condition": {"test": "datum.value % 1 === 0", "value": 1}, "value": 0}}}}},
  {"data": {"name": "fall"}, "transform": [{"filter": "datum.aldur === '5+' && datum.hopur === 'B'"}], "mark": {"type": "area", "opacity": 0.4, "clip": true}, "encoding": {"y": {"field": "lo", "type": "quantitative", "title": null}, "y2": {"field": "hi"}}},
  {"data": {"name": "fall"}, "transform": [{"filter": "datum.aldur === '5+' && datum.hopur === 'B'"}], "mark": {"type": "line", "strokeWidth": 2.6, "clip": true}, "encoding": {"y": {"field": "fit", "type": "quantitative", "title": null}}}
 ]}
],
"config": {
 "view": {"stroke": "#333333", "strokeWidth": 1.1},
 "axis": {"domain": false, "grid": true, "gridColor": "#EBEBEB", "zindex": 0, "tickColor": "#333333", "tickSize": 4.5, "tickWidth": 1.1, "labelFont": "Liberation Sans", "labelFontSize": 16, "labelColor": "#4D4D4D", "labelOverlap": false, "labelFlush": false, "titleFont": "DejaVu Sans", "titleFontWeight": "normal", "titleColor": "#000000"},
 "axisX": {"labelPadding": 4, "titleFontSize": 17, "titlePadding": 23, "titleBaseline": "alphabetic"},
 "axisY": {"labelPadding": 5, "titleFontSize": 19.6, "titlePadding": 11, "minExtent": 0},
 "title": {"font": "DejaVu Sans", "fontSize": 18.5, "fontWeight": "normal", "anchor": "start", "frame": "group", "color": "#000000", "baseline": "alphabetic"}
}
}
